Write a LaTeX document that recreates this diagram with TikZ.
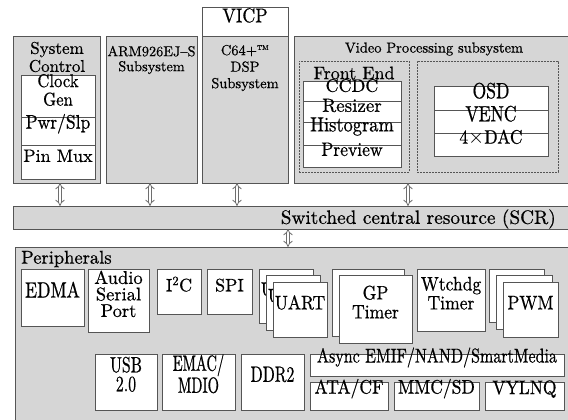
\documentclass[tikz,border=0pt]{standalone}
\usepackage{fontspec}
\setmainfont{lmroman10-regular.otf}[FakeBold=0.6]
\newfontfamily\lmA{lmroman10-regular.otf}[FakeBold=0.6]
\newfontfamily\lmB{lmroman10-regular.otf}[FakeStretch=0.9,FakeBold=0.6]
\newfontfamily\lmC{lmroman10-regular.otf}[FakeStretch=0.8,FakeBold=0.6]
\newfontfamily\lmD{lmroman10-regular.otf}[FakeStretch=0.72,FakeBold=0.6]
\newfontfamily\lmE{lmroman10-regular.otf}[FakeStretch=0.66,FakeBold=0.6]
\usetikzlibrary{arrows.meta,fit}
\definecolor{grayc}{RGB}{214,214,214}
\definecolor{bordc}{RGB}{85,85,85}
\newcommand{\myfs}[2]{\fontsize{#1}{#2}\selectfont}
\begin{document}
\begin{tikzpicture}[x=1pt,y=-1pt,
  base/.style={inner sep=0pt, outer sep=0pt, line width=1pt, draw=bordc, align=center, font=\lmA\myfs{18}{18}},
  gbox/.style={base, fill=grayc},
  wbox/.style={base, fill=white},
  dbox/.style={draw=bordc, line width=0.9pt, dash pattern=on 1.8pt off 1.2pt, inner sep=0pt, outer sep=0pt},
  arr/.style={draw=bordc!85, double=white, double distance=2.4pt, line width=0.8pt, arrows={Implies[length=3.5pt]-Implies[length=3.5pt]}},
  lbl/.style={inner sep=0pt, align=center, font=\lmA\myfs{18}{18}}
]
\useasboundingbox (0,0) rectangle (568,420);
\fill[white] (0,0) rectangle (568,420);
\clip (0,0) rectangle (568,420);

% top row
\node[gbox, fit={(13,37)(100,183)}] (sysctl) {};
\node[lbl, font=\lmA\myfs{17}{18}] (sysctlt) at (57,57) {System\\Control};
\node[wbox, fit={(21,76)(95,117)}, font=\lmB\myfs{18.5}{18.5}] (clk) {Clock\\Gen};
\node[wbox, fit={(21,117)(95,145)}, font=\lmB\myfs{19.5}{18}] (pwr) {Pwr/Slp};
\node[wbox, fit={(21,145)(95,179)}, font=\lmA\myfs{18}{18}] (pin) {Pin Mux};

\node[gbox, fit={(106,37)(197,183)}] (arm) {};
\node[lbl, font=\lmA\myfs{14.3}{15}] (armt) at (151.5,60) {ARM926EJ\textendash S\\Subsystem};

\node[gbox, fit={(202,37)(288,183)}] (dsp) {};
\node[wbox, fit={(202,8)(288,37)}, font=\lmB\myfs{20}{20}] (vicp) {VICP};
\node[lbl, font=\lmA\myfs{14.5}{16.5}] (dspt) at (245,68) {C64+\textsuperscript{\fontsize{7}{7}\selectfont TM}\\DSP\\Subsystem};

\node[gbox, fit={(294,37)(575,183)}] (vpss) {};
\node[lbl, font=\lmA\myfs{14.5}{15}] (vpsst) at (434,49) {Video Processing subsystem};
\node[dbox, fit={(299,61)(409,172)}] (fe) {};
\node[lbl] (fet) at (354,73) {Front End};
\node[wbox, fit={(303,82)(401,102)}] (ccdc) {CCDC};
\node[wbox, fit={(303,102)(401,122)}, font=\lmA\myfs{19}{19}] (rsz) {Resizer};
\node[wbox, fit={(303,122)(401,145)}, font=\lmB\myfs{20.5}{20}] (hist) {Histogram};
\node[wbox, fit={(303,145)(401,167)}, font=\lmB\myfs{19.5}{19}] (prev) {Preview};
\node[dbox, fit={(417,61)(558,172)}] (be) {};
\node[wbox, fit={(434,87)(548,110)}, font=\lmC\myfs{22}{22}] (osd) {OSD};
\node[wbox, fit={(434,110)(548,133)}, font=\lmC\myfs{22}{22}] (venc) {VENC};
\node[wbox, fit={(434,133)(548,156)}, font=\lmB\myfs{19.5}{19}] (dac) {4$\times$DAC};

% SCR bar
\node[gbox, fit={(13,206)(575,229)}] (scr) {};
\node[lbl, anchor=east, font=\lmA\myfs{19.3}{19}] (scrt) at (556,219) {Switched central resource (SCR)};

% peripherals
\node[gbox, fit={(15,247)(575,425)}] (periph) {};
\node[lbl, anchor=west, font=\lmA\myfs{18.5}{18}] (periphl) at (21,259) {Peripherals};
\node[wbox, fit={(21,269)(84,326)}, font=\lmC\myfs{22}{22}] (edma) {EDMA};
\node[wbox, fit={(88,269)(149,332)}, font=\lmA\myfs{18.5}{16.5}] (asp) {Audio\\Serial\\Port};
\node[wbox, fit={(157,269)(201,314)}] (i2c) {I\textsuperscript{2}C};
\node[wbox, fit={(207,269)(252,314)}] (spi) {SPI};
\node[wbox, fit={(259,269)(313,323)}, font=\lmB\myfs{19.5}{19}] (uart3) {UART};
\node[wbox, fit={(266,275)(320,330)}, font=\lmB\myfs{19.5}{19}] (uart2) {UART};
\node[wbox, fit={(273,282)(327,337)}, font=\lmB\myfs{19.5}{19}] (uart1) {UART};
\node[wbox, fit={(332,269)(404,336)}] (gpt2) {};
\node[wbox, fit={(339,275)(412,343)}, font=\lmB\myfs{19.5}{19}] (gpt1) {GP\\Timer};
\node[wbox, fit={(417,269)(485,331)}, font=\lmB\myfs{19.5}{19}] (wdt) {Wtchdg\\Timer};
\node[wbox, fit={(489,269)(544,322)}] (pwm3) {};
\node[wbox, fit={(496,275)(552,329)}] (pwm2) {};
\node[wbox, fit={(503,282)(558,337)}, font=\lmB\myfs{19.5}{19}] (pwm1) {PWM};

\node[wbox, fit={(95,354)(157,410)}, font=\lmD\myfs{22}{19}] (usb) {USB\\2.0};
\node[wbox, fit={(162,354)(235,410)}, font=\lmE\myfs{22}{20}] (emac) {EMAC/\\MDIO};
\node[wbox, fit={(241,354)(304,410)}, font=\lmD\myfs{22}{22}] (ddr) {DDR2};
\node[wbox, fit={(310,354)(564,376)}, font=\lmC\myfs{20}{20}] (emif) {Async EMIF/NAND/SmartMedia};
\node[wbox, fit={(310,382)(388,410)}, font=\lmB\myfs{19.5}{19}] (ata) {ATA/CF};
\node[wbox, fit={(394,382)(479,410)}, font=\lmB\myfs{19.5}{19}] (mmc) {MMC/SD};
\node[wbox, fit={(485,382)(564,410)}, font=\lmB\myfs{19.5}{19}] (vyl) {VYLNQ};

% arrows
\draw[arr] ([xshift=3.5]sysctl.south) -- ([xshift=3.5]sysctl.south |- scr.north);
\draw[arr] ([xshift=-1.5]arm.south) -- ([xshift=-1.5]arm.south |- scr.north);
\draw[arr] ([xshift=-8]dsp.south) -- ([xshift=-8]dsp.south |- scr.north);
\draw[arr] ([xshift=-1]fe.east |- vpss.south) -- ([xshift=-1]fe.east |- scr.north);
\draw[arr] ([xshift=-6]scr.south) -- ([xshift=-6]scr.south |- periph.north);
\end{tikzpicture}
\end{document}
